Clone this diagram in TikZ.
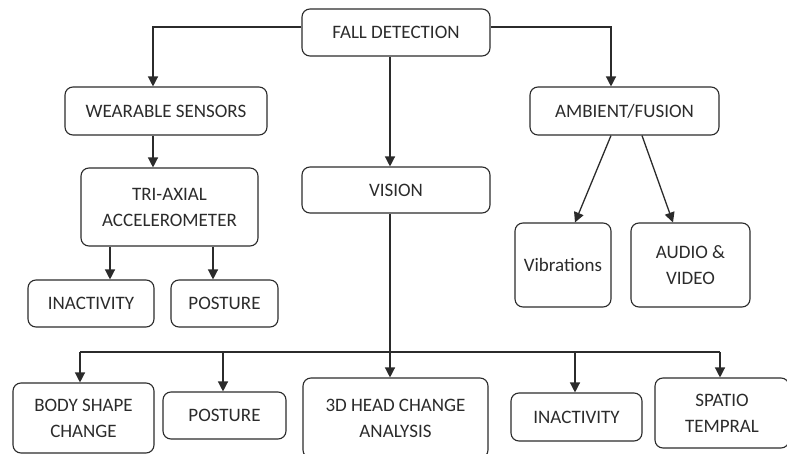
\documentclass[tikz,border=0pt]{standalone}
\usepackage{fontspec}
\setmainfont{Carlito}
\usetikzlibrary{arrows.meta}
\definecolor{ink}{HTML}{2B2B2B}
\begin{document}
\begin{tikzpicture}[x=1pt,y=-1pt,
  box/.style={draw=ink, line width=1.1pt, rounded corners=8pt, inner sep=0pt,
    align=center, text=ink, font=\fontsize{19}{26}\selectfont},
  arr/.style={draw=ink, line width=1.3pt, -{Triangle[length=10pt,width=10pt]}},
  ln/.style={draw=ink, line width=1.3pt}]
\useasboundingbox (0,0) rectangle (787,454);
% nodes
\node[box, minimum width=188pt, minimum height=47pt] (fd)   at (396,32.5) {FALL DETECTION};
\node[box, minimum width=202pt, minimum height=48pt] (ws)   at (166,111) {WEARABLE SENSORS};
\node[box, minimum width=177pt, minimum height=78pt] (tri)  at (169.5,207) {TRI-AXIAL\\ACCELEROMETER};
\node[box, minimum width=188pt, minimum height=46pt] (vis)  at (396,190) {VISION};
\node[box, minimum width=189pt, minimum height=48pt] (amb)  at (624.5,111) {AMBIENT/FUSION};
\node[box, minimum width=96pt,  minimum height=84pt] (vib)  at (563,265) {Vibrations};
\node[box, minimum width=119pt, minimum height=84pt] (av)   at (690.5,265) {AUDIO \&\\VIDEO};
\node[box, minimum width=126pt, minimum height=47pt] (in1)  at (91,303.5) {INACTIVITY};
\node[box, minimum width=107pt, minimum height=47pt] (po1)  at (224.5,303.5) {POSTURE};
\node[box, minimum width=141pt, minimum height=70pt] (body) at (83.5,418) {BODY SHAPE\\CHANGE};
\node[box, minimum width=123pt, minimum height=47pt] (po2)  at (224.5,415.5) {POSTURE};
\node[box, minimum width=185pt, minimum height=80pt] (head) at (395.5,418) {3D HEAD CHANGE\\ANALYSIS};
\node[box, minimum width=131pt, minimum height=48pt] (in2)  at (576.5,417) {INACTIVITY};
\node[box, minimum width=134pt, minimum height=70pt] (sp)   at (722,413) {SPATIO\\TEMPRAL};
% bus taps
\coordinate (t1) at (80,352);
\coordinate (t2) at (223,352);
\coordinate (t3) at (390,352);
\coordinate (t4) at (575,352);
\coordinate (t5) at (720,352);
% connectors
\draw[arr] ([yshift=5.5pt]fd.west) -| ([xshift=-13pt]ws.north);
\draw[arr] ([yshift=5.5pt]fd.east) -| ([xshift=-13.5pt]amb.north);
\draw[arr] ([xshift=-6pt]fd.south) -- ([xshift=-6pt]vis.north);
\draw[arr] ([xshift=-13pt]ws.south) -- ([xshift=-16.5pt]tri.north);
\draw[arr] ([xshift=-59.5pt]tri.south) -- ([xshift=-59.5pt]tri.south |- in1.north);
\draw[arr] ([xshift=43.5pt]tri.south) -- ([xshift=43.5pt]tri.south |- po1.north);
\draw[arr] ([xshift=-13.5pt]amb.south) -- ([xshift=12pt]vib.north);
\draw[arr] ([xshift=17.5pt]amb.south) -- ([xshift=-17.5pt]av.north);
\draw[ln] ([xshift=-6pt]vis.south) -- (t3);
\draw[ln] (t1) -- (t5);
\draw[arr] (t1) -- (t1 |- body.north);
\draw[arr] (t2) -- (t2 |- po2.north);
\draw[arr] (t3) -- (t3 |- head.north);
\draw[arr] (t4) -- (t4 |- in2.north);
\draw[arr] (t5) -- (t5 |- sp.north);
\end{tikzpicture}
\end{document}
